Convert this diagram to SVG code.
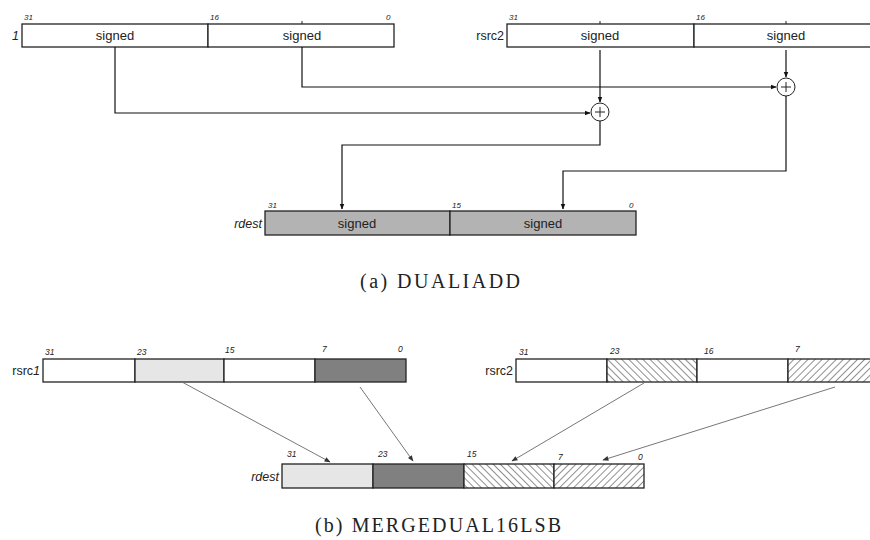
<svg xmlns="http://www.w3.org/2000/svg" width="870" height="540" viewBox="0 0 870 540">
<style>
.reg{stroke:#222;stroke-width:1.3}
.w{fill:#fff}
.g{fill:#b3b3b3}
.lg{fill:#e6e6e6}
.dg{fill:#808080}
.t{font-family:"Liberation Sans",Arial,sans-serif;font-size:13px;fill:#222;text-anchor:middle}
.n{font-family:"Liberation Sans",Arial,sans-serif;font-size:8px;font-style:italic;fill:#222}
.nb{font-family:"Liberation Sans",Arial,sans-serif;font-size:8.5px;font-style:italic;fill:#222}
.lab{font-family:"Liberation Sans",Arial,sans-serif;font-size:12.5px;fill:#222;text-anchor:end}
.cap{font-family:"Liberation Serif","Times New Roman",serif;font-size:20px;fill:#222}
.c{fill:none;stroke:#111;stroke-width:1.2}
.c2{fill:none;stroke:#777;stroke-width:1}
</style>
<defs>
<marker id="ah" viewBox="0 0 10 10" refX="9" refY="5" markerWidth="6" markerHeight="6" markerUnits="userSpaceOnUse" orient="auto">
<path d="M0,1 L10,5 L0,9 Z" fill="#111"/>
</marker>
<marker id="ah2" viewBox="0 0 10 10" refX="9" refY="5" markerWidth="7" markerHeight="6" markerUnits="userSpaceOnUse" orient="auto">
<path d="M0,1 L10,5 L0,9 Z" fill="#333"/>
</marker>
<pattern id="hb" patternUnits="userSpaceOnUse" width="5" height="5" patternTransform="rotate(-45)">
<rect width="5" height="5" fill="#fff"/>
<line x1="0" y1="0" x2="0" y2="5" stroke="#222" stroke-width="1"/>
</pattern>
<pattern id="hf" patternUnits="userSpaceOnUse" width="5" height="5" patternTransform="rotate(45)">
<rect width="5" height="5" fill="#fff"/>
<line x1="0" y1="0" x2="0" y2="5" stroke="#222" stroke-width="1"/>
</pattern>
</defs>
<rect width="870" height="540" fill="#fff"/>

<!-- (a) DUALIADD -->
<g id="a-rsrc1">
<rect class="reg w" x="22" y="24" width="186" height="23"/>
<rect class="reg w" x="208" y="24" width="186" height="23"/>
<line x1="302" y1="21" x2="302" y2="24" stroke="#222"/>
<text class="t" x="115" y="40">signed</text>
<text class="t" x="302" y="40">signed</text>
<text class="n" x="24" y="20">31</text>
<text class="n" x="210" y="20">16</text>
<text class="n" x="386" y="20">0</text>
<text class="lab" x="19" y="40" font-style="italic">1</text>
</g>
<g id="a-rsrc2">
<rect class="reg w" x="507" y="24" width="187" height="23"/>
<rect class="reg w" x="694" y="24" width="186" height="23"/>
<line x1="600" y1="21" x2="600" y2="24" stroke="#222"/>
<line x1="786" y1="21" x2="786" y2="24" stroke="#222"/>
<text class="t" x="600" y="40">signed</text>
<text class="t" x="786" y="40">signed</text>
<text class="n" x="509" y="20">31</text>
<text class="n" x="696" y="20">16</text>
<text class="lab" x="504" y="40">rsrc2</text>
</g>
<g id="a-add1">
<circle cx="600" cy="112" r="9" fill="#fff" stroke="#222" stroke-width="1"/>
<path d="M595,112 H605 M600,107 V117" stroke="#222" stroke-width="1"/>
</g>
<g id="a-add2">
<circle cx="786" cy="87" r="9" fill="#fff" stroke="#222" stroke-width="1"/>
<path d="M781,87 H791 M786,82 V92" stroke="#222" stroke-width="1"/>
</g>
<g id="a-rdest">
<rect class="reg g" x="265" y="211" width="185" height="24"/>
<rect class="reg g" x="450" y="211" width="186" height="24"/>
<text class="t" x="357" y="228">signed</text>
<text class="t" x="543" y="228">signed</text>
<text class="n" x="268" y="208">31</text>
<text class="n" x="452" y="208">15</text>
<text class="n" x="629" y="208">0</text>
<text class="lab" x="262" y="228" font-style="italic">rdest</text>
</g>
<text class="cap" x="360" y="288" textLength="160" lengthAdjust="spacing">(a)  DUALIADD</text>

<g id="connectors-a">
<path class="c" d="M115,47 V113 H590" marker-end="url(#ah)"/>
<path class="c" d="M302,47 V87 H776" marker-end="url(#ah)"/>
<path class="c" d="M600,50 V102" marker-end="url(#ah)"/>
<path class="c" d="M786,50 V77" marker-end="url(#ah)"/>
<path class="c" d="M600,121 V145 H342 V209" marker-end="url(#ah)"/>
<path class="c" d="M786,96 V171 H563 V209" marker-end="url(#ah)"/>
</g>

<!-- (b) MERGEDUAL16LSB -->
<g id="b-rsrc1">
<rect class="reg w" x="43" y="359" width="92" height="23"/>
<rect class="reg lg" x="135" y="359" width="89" height="23"/>
<rect class="reg w" x="224" y="359" width="91" height="23"/>
<rect class="reg dg" x="315" y="359" width="91" height="23"/>
<text class="nb" x="45" y="355">31</text>
<text class="nb" x="137" y="355">23</text>
<text class="nb" x="225" y="353">15</text>
<text class="nb" x="322" y="352">7</text>
<text class="nb" x="398" y="352">0</text>
<text class="lab" x="40" y="375">rsrc<tspan font-style="italic">1</tspan></text>
</g>
<g id="b-rsrc2">
<rect class="reg w" x="516" y="359" width="91" height="23"/>
<rect class="reg" fill="url(#hb)" x="607" y="359" width="90" height="23"/>
<rect class="reg w" x="697" y="359" width="91" height="23"/>
<rect class="reg" fill="url(#hf)" x="788" y="359" width="92" height="23"/>
<text class="nb" x="519" y="355">31</text>
<text class="nb" x="610" y="354">23</text>
<text class="nb" x="704" y="354">16</text>
<text class="nb" x="795" y="352">7</text>
<text class="lab" x="513" y="375">rsrc2</text>
</g>
<g id="b-rdest">
<rect class="reg lg" x="282" y="464" width="91" height="24"/>
<rect class="reg dg" x="373" y="464" width="91" height="24"/>
<rect class="reg" fill="url(#hb)" x="464" y="464" width="90" height="24"/>
<rect class="reg" fill="url(#hf)" x="554" y="464" width="90" height="24"/>
<text class="nb" x="287" y="457">31</text>
<text class="nb" x="378" y="457">23</text>
<text class="nb" x="467" y="457">15</text>
<text class="nb" x="558" y="460">7</text>
<text class="nb" x="638" y="460">0</text>
<text class="lab" x="279" y="481" font-style="italic">rdest</text>
</g>
<text class="cap" x="315" y="532" textLength="246" lengthAdjust="spacing">(b)  MERGEDUAL16LSB</text>

<g id="connectors-b">
<path class="c2" d="M182,382 L330,462" marker-end="url(#ah2)"/>
<path class="c2" d="M360,387 L413,461" marker-end="url(#ah2)"/>
<path class="c2" d="M644,383 L512,461" marker-end="url(#ah2)"/>
<path class="c2" d="M835,387 L603,460" marker-end="url(#ah2)"/>
</g>
</svg>
